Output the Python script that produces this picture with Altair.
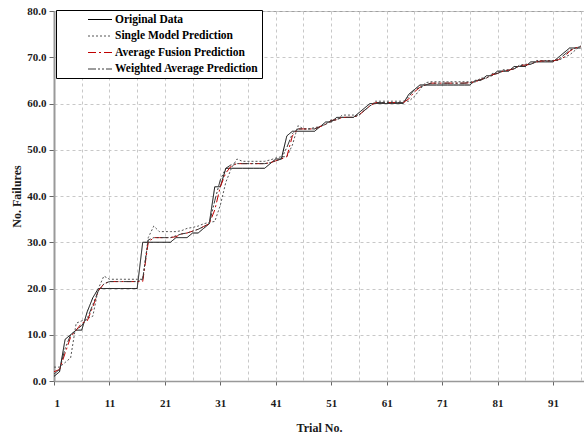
import altair as alt
import pandas as pd

trials = list(range(1, 97))

original = [
    1, 2, 9, 10, 11, 11, 15, 18, 20, 20,
    20, 20, 20, 20, 20, 20, 30, 30, 30, 30,
    30, 30, 31, 31, 31, 32, 32, 33, 34, 42,
    42, 46, 46, 46, 46, 46, 46, 46, 46, 47,
    48, 48, 53, 54, 54, 54, 54, 54, 55, 56,
    56, 57, 57, 57, 57, 58, 59, 60, 60, 60,
    60, 60, 60, 60, 62, 63, 64, 64, 64, 64,
    64, 64, 64, 64, 64, 64, 65, 65, 66, 66,
    67, 67, 67, 68, 68, 68, 69, 69, 69, 69,
    69, 70, 71, 72, 72, 72,
]

single = [
    3, 3, 4, 5, 12.5, 13, 13.5, 14, 20, 22.7,
    22, 22, 22, 22, 22, 22, 22, 31, 33.5, 32.3,
    32.3, 32.3, 32.3, 32.5, 33, 33.2, 33.5, 34, 34.3, 34.5,
    38, 43, 46, 48, 47.5, 47.5, 47.5, 47.5, 47.5, 47.8,
    48.2, 48.5, 48.5, 51, 55.2, 54.5, 54.5, 54.8, 55, 55.5,
    56.5, 56.5, 57.5, 57.5, 57.5, 57.5, 58.5, 59.5, 60.5, 60.5,
    60.5, 60.5, 60.5, 60.5, 60.5, 61.5, 63, 64.5, 64.7, 64.7,
    64.7, 64.7, 64.7, 64.7, 64.7, 64.7, 64.7, 65.5, 65.5, 66.5,
    66.5, 67.3, 67.3, 67.5, 68.3, 68.5, 68.5, 69.3, 69.3, 69.3,
    69.3, 69.3, 70, 70.5, 71.5, 72.5,
]

average = [
    2, 2.5, 6, 9.5, 11, 12.5, 13, 16, 19.5, 21,
    21.5, 21.5, 21.5, 21.5, 21.5, 21.5, 21.5, 30, 31, 31,
    31, 31, 31.2, 31.8, 32, 32.4, 32.8, 33.4, 34, 37,
    42, 45, 46.5, 47, 47, 47, 47, 47, 47, 47.2,
    47.6, 48, 48.5, 53, 54.5, 54.5, 54.5, 54.5, 55, 55.5,
    56.3, 56.5, 57, 57, 57, 57.5, 58.5, 59.5, 60.2, 60.2,
    60.2, 60.2, 60.2, 60.2, 61, 62.5, 63.5, 64, 64.4, 64.4,
    64.4, 64.4, 64.4, 64.4, 64.4, 64.5, 64.7, 65.2, 65.5, 66.2,
    66.5, 67, 67.2, 67.5, 68.2, 68.3, 68.5, 69, 69.2, 69.2,
    69.2, 69.5, 70, 71.3, 72, 72.3,
]

weighted = [
    1.5, 2.5, 7, 10, 11, 12, 13.5, 16.5, 19.5, 21,
    21.5, 21.5, 21.5, 21.5, 21.5, 21.5, 22, 30.5, 31, 31,
    31, 31, 31.4, 31.8, 32, 32.4, 32.8, 33.4, 34, 39,
    43.5, 46, 46.8, 47, 47, 47, 47, 47, 47, 47.2,
    47.6, 48, 50.5, 53.5, 54.5, 54.5, 54.5, 54.5, 55, 55.5,
    56.3, 56.5, 57, 57, 57, 57.5, 58.5, 59.5, 60.2, 60.2,
    60.2, 60.2, 60.2, 60.2, 61.5, 63, 63.5, 64, 64.4, 64.4,
    64.4, 64.4, 64.4, 64.4, 64.4, 64.5, 64.7, 65.2, 65.5, 66.2,
    66.5, 67, 67.2, 67.5, 68.2, 68.3, 68.5, 69, 69.2, 69.2,
    69.2, 69.5, 70.5, 71.5, 72, 72.3,
]

series_names = [
    "Original Data",
    "Single Model Prediction",
    "Average Fusion Prediction",
    "Weighted Average Prediction",
]
series_colors = ["#000000", "#555555", "#c00000", "#3a3a3a"]
series_dash = [[1, 0], [2, 2], [8, 3, 2, 3], [8, 2, 2, 2, 2, 2]]

x_ticks = list(range(1, 97, 5))
y_ticks = list(range(0, 81, 10))

rows = []
for name, vals in zip(series_names, [original, single, average, weighted]):
    for t, v in zip(trials, vals):
        rows.append({"trial": t, "value": v, "series": name})
df = pd.DataFrame(rows)

FONT = "Liberation Serif"

legend = alt.Legend(
    title=None,
    orient="none",
    legendX=2,
    legendY=-1,
    strokeColor="#000000",
    fillColor="#ffffff",
    padding=3,
    symbolType="M-2,0L2,0",
    symbolSize=144,
    symbolOffset=34.5,
    symbolStrokeWidth=1,
    labelFont=FONT,
    labelFontWeight="bold",
    labelFontSize=11.5,
    labelColor="#000000",
    labelOffset=8.5,
    labelLimit=300,
    rowPadding=4.5,
)

chart = (
    alt.Chart(df)
    .mark_line(strokeWidth=1)
    .encode(
        x=alt.X(
            "trial:Q",
            scale=alt.Scale(domain=[1, 96.6], nice=False, zero=False),
            axis=alt.Axis(
                values=x_ticks,
                title="Trial No.",
                labelExpr="(datum.value - 1) % 10 === 0 ? datum.label : ''",
                tickOpacity={"condition": {"test": "(datum.value - 1) % 10 === 0", "value": 1}, "value": 0},
                tickSize=4,
                tickColor="#666666",
                labelPadding=12,
                titlePadding=14,
                domainColor="#999999",
                domainWidth=1.5,
                grid=True,
                gridDash=[3, 3],
                gridColor="#c8c8c8",
            ),
        ),
        y=alt.Y(
            "value:Q",
            scale=alt.Scale(domain=[0, 80], nice=False),
            axis=alt.Axis(
                values=y_ticks,
                format=".1f",
                title="No. Failures",
                tickSize=5,
                tickColor="#666666",
                labelPadding=3,
                titlePadding=3,
                domainColor="#999999",
                domainWidth=2,
                grid=True,
                gridDash=[3, 3],
                gridColor="#c8c8c8",
            ),
        ),
        color=alt.Color(
            "series:N",
            scale=alt.Scale(domain=series_names, range=series_colors),
            sort=series_names,
            legend=legend,
        ),
        strokeDash=alt.StrokeDash(
            "series:N",
            scale=alt.Scale(domain=series_names, range=series_dash),
            sort=series_names,
            legend=legend,
        ),
    )
    .properties(
        width=530,
        height=370,
        autosize=alt.AutoSizeParams(type="none"),
        padding={"left": 54, "top": 11, "right": 0, "bottom": 58},
        background="#ffffff",
    )
    .configure_view(stroke="#a0a0a0", strokeWidth=1)
    .configure_axis(
        labelFont=FONT,
        labelFontWeight="bold",
        labelFontSize=11,
        labelColor="#1a1a1a",
        titleFont=FONT,
        titleFontWeight="bold",
        titleFontSize=12,
        titleColor="#1a1a1a",
    )
)

chart.save("out.html", embed_options={"renderer": "svg", "actions": False})
